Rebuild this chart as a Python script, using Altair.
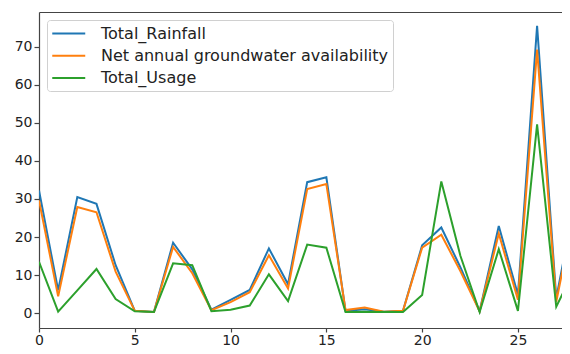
import altair as alt
import pandas as pd

x_vals = list(range(29))
series_names = ["Total_Rainfall", "Net annual groundwater availability", "Total_Usage"]
colors = ["#1f77b4", "#ff7f0e", "#2ca02c"]

total_rainfall = [32.2, 6.0, 30.5, 28.7, 12.6, 0.6, 0.3, 18.5, 11.5, 0.9,
                  3.5, 6.1, 17.0, 7.6, 34.4, 35.7, 0.6, 1.0, 0.4, 0.6,
                  17.8, 22.5, 12.0, 0.5, 22.9, 4.8, 75.5, 3.9, 30.0]
net_availability = [29.6, 4.4, 27.9, 26.5, 10.9, 0.6, 0.3, 17.4, 10.5, 0.8,
                    2.9, 5.5, 15.2, 6.5, 32.6, 33.9, 0.8, 1.5, 0.4, 0.6,
                    17.2, 20.6, 11.0, 0.5, 20.9, 3.5, 69.2, 3.0, 28.0]
total_usage = [13.5, 0.4, 6.0, 11.6, 3.7, 0.5, 0.3, 13.1, 12.6, 0.5,
               0.9, 2.0, 10.2, 3.2, 18.0, 17.2, 0.3, 0.4, 0.3, 0.3,
               4.8, 34.6, 15.0, 0.3, 16.8, 0.6, 49.6, 1.7, 12.0]

x_ticks = [0, 5, 10, 15, 20, 25]
y_ticks = [0, 10, 20, 30, 40, 50, 60, 70]

rows = []
for order, (name, vals) in enumerate(zip(series_names, [total_rainfall, net_availability, total_usage])):
    for xi, v in zip(x_vals, vals):
        rows.append({"idx": xi, "value": v, "series": name, "ord": order})
df = pd.DataFrame(rows)

font = "DejaVu Sans"
frame = "#444"

x_scale = alt.Scale(domain=[0, 27.3], nice=False, zero=False)
y_scale = alt.Scale(domain=[-3.9, 79.1], nice=False, zero=False)

y_axis = alt.Axis(values=y_ticks, title=None, grid=False, domain=True,
                  domainColor=frame, domainWidth=1.2,
                  tickSize=5, tickColor=frame, tickWidth=1.2,
                  labelFontSize=14, labelFont=font, labelColor="#222",
                  labelPadding=2, format="d")

lines = alt.Chart(df).mark_line(strokeWidth=2, clip=True).encode(
    x=alt.X("idx:Q", scale=x_scale,
            axis=alt.Axis(values=x_ticks, title=None, grid=False, domain=True,
                          domainColor=frame, domainWidth=1.2,
                          tickSize=4, tickColor=frame, tickWidth=1.2,
                          labelFontSize=14, labelFont=font, labelColor="#222",
                          labelPadding=1, format="d", labelFlush=False)),
    y=alt.Y("value:Q", scale=y_scale, axis=y_axis),
    color=alt.Color("series:N",
                    scale=alt.Scale(domain=series_names, range=colors),
                    legend=alt.Legend(title=None, orient="none", legendX=8, legendY=8,
                                      symbolType="M-1,0H3", symbolSize=272,
                                      symbolStrokeWidth=2, labelOffset=31,
                                      labelFontSize=16, labelFont=font, labelColor="#222",
                                      labelLimit=500, rowPadding=4.3, padding=4,
                                      strokeColor="#d0d0d0", cornerRadius=3,
                                      fillColor="white")),
    detail="series:N",
    order="ord:Q",
)

top_frame = alt.Chart(df).mark_line(opacity=0).encode(
    x=alt.X("idx:Q", scale=x_scale,
            axis=alt.Axis(orient="top", title=None, labels=False, ticks=False, grid=False,
                          domain=True, domainColor=frame, domainWidth=1.2)),
    y=alt.Y("value:Q", scale=y_scale, axis=y_axis),
    detail="series:N",
)

chart = alt.layer(lines, top_frame).resolve_axis(x="independent").properties(
    width=523, height=316,
    autosize=alt.AutoSizeParams(type="none"),
    padding={"left": 31, "top": 4, "right": 0, "bottom": 18},
).configure_view(stroke=None)

chart.save("out.html", embed_options={"renderer": "svg", "actions": False})
